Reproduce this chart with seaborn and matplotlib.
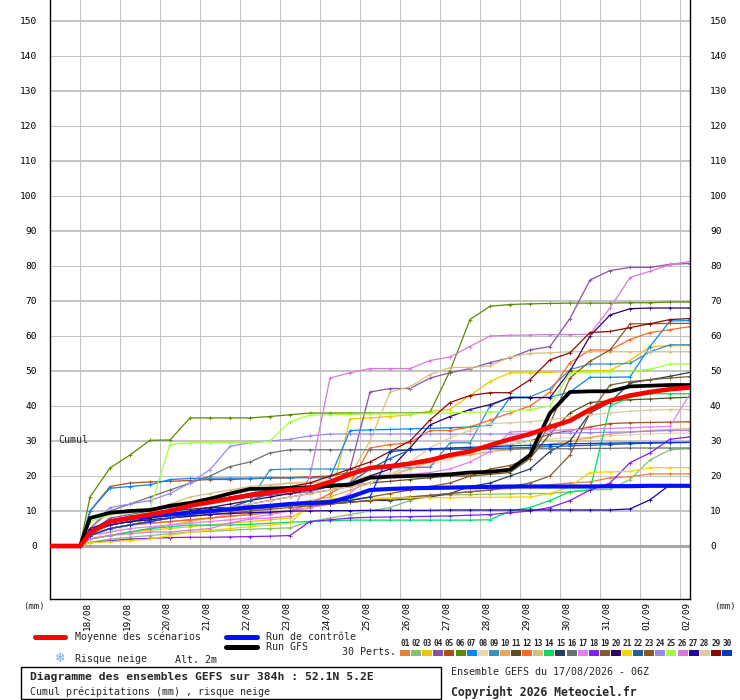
import numpy as np
import pandas as pd
import seaborn as sns
import matplotlib.pyplot as plt
from matplotlib.lines import Line2D
from matplotlib.patches import Rectangle
import matplotlib.transforms as mtransforms

# forecast hours: start, first 00Z, then one value every 12h up to 384h
hours = [0, 18] + list(range(24, 385, 12))

# 30 perturbations, cumulated precipitation (mm)
m01 = [0, 0, 3, 5, 6, 6.5, 7, 7.5, 8, 8.5, 9, 9.5, 10, 11, 12, 12.5, 13, 13.5, 14, 14.5, 15, 15.5, 16, 16.5, 17, 17.5, 18, 18.3, 19.5, 19.8, 20.6, 20.6, 20.6]
m02 = [0, 0, 1, 2, 2.5, 3, 3.5, 4, 4.2, 4.5, 4.8, 5, 5.2, 7, 8, 9, 10, 11, 13, 14.5, 14.6, 14.7, 14.8, 14.9, 15, 15, 15.5, 16, 16.2, 19, 24.6, 27.5, 27.8]
m03 = [0, 0, 2, 3, 4, 4.5, 5, 5.5, 6, 6.5, 7, 7.5, 8, 11, 13, 36.3, 36.6, 37, 37.5, 38.5, 39, 43, 47, 49.5, 49.5, 49.6, 50, 50, 50.2, 53, 57, 57.2, 57.3]
m04 = [0, 0, 4, 8, 9, 10, 11, 12, 13, 13.5, 14, 14.5, 15, 15.5, 17, 22, 44, 45, 45, 48, 49.5, 50.7, 52.4, 53.8, 56, 57, 65, 76, 78.7, 79.6, 79.6, 80.5, 80.7]
m05 = [0, 0, 10, 17, 18, 18.3, 18.5, 18.7, 19, 19, 19.2, 19.4, 19.5, 19.8, 20, 21, 22, 23, 24, 25, 26, 27, 28, 29, 30, 32, 33, 34, 35, 35.2, 35.3, 35.4, 35.5]
m06 = [0, 0, 14, 22.3, 26, 30.2, 30.3, 36.6, 36.6, 36.6, 36.6, 37, 37.5, 38, 38, 38, 38, 38, 38, 38.2, 50, 64.7, 68.5, 69, 69.2, 69.3, 69.4, 69.4, 69.4, 69.5, 69.5, 69.7, 69.7]
m07 = [0, 0, 10, 16.5, 17, 17.5, 19, 19.3, 19.4, 19.4, 19.4, 19.5, 19.5, 19.5, 19.5, 33, 33.2, 33.3, 33.5, 33.6, 33.8, 34, 34.5, 42.4, 42.4, 42.5, 44, 48.2, 48.2, 48.3, 57, 64.3, 64.4]
m08 = [0, 0, 2, 4, 6, 8, 10, 12, 14, 15, 16, 17, 18, 18.5, 19, 19.5, 20, 21, 22, 23, 25, 27, 28, 29, 30, 30.5, 31, 31, 31.5, 31.8, 32, 32.2, 32.3]
m09 = [0, 0, 3, 5, 6, 7, 8, 9, 10, 11, 13, 21.8, 22, 22, 22, 22, 22.2, 22.3, 22.4, 22.5, 29.5, 29.5, 40, 42.6, 42.6, 45, 50.4, 52, 52, 52.2, 55.5, 57.5, 57.5]
m10 = [0, 0, 2, 3, 4, 5, 6, 7, 8, 9, 10, 11, 12, 13, 14, 16, 18, 20, 22, 24, 25.5, 26, 27, 27.5, 28, 29, 30, 31, 32, 32.5, 33, 33.3, 33.5]
m11 = [0, 0, 3, 5, 6, 7, 8, 9, 10, 11, 12, 13, 14, 15, 16, 17, 18, 18.5, 19, 19.5, 20, 20, 20.5, 21, 25, 32, 38, 41, 41.5, 41.8, 42, 42.3, 42.5]
m12 = [0, 0, 3, 5, 6, 6.5, 7, 7.5, 8, 8.5, 9, 9.5, 10, 12, 15, 18, 28, 29, 29.5, 33, 33, 34, 36, 38, 40, 44, 52.4, 56, 56, 59, 61, 61.8, 62.7]
m13 = [0, 0, 3, 6, 8, 10, 12, 14, 15, 16, 17, 17.5, 18, 18, 18.5, 20, 30, 44, 45.5, 49, 51, 51, 51.5, 54, 55, 55.2, 55.5, 55.5, 55.5, 55.5, 55.5, 55.5, 55.5]
m14 = [0, 0, 2, 3, 4, 5, 5.5, 6, 6, 6, 6.2, 6.5, 6.8, 7, 7.2, 7.4, 7.4, 7.4, 7.4, 7.4, 7.4, 7.4, 7.5, 10, 11, 13, 15.5, 16, 40, 42.5, 43.5, 43.5, 43.5]
m15 = [0, 0, 4, 7, 8, 9, 10, 10.5, 11, 11, 11.5, 11.5, 12, 12, 12, 12.5, 13, 13, 13.5, 14, 15, 17, 18, 20, 22, 27, 30, 38, 41, 46.6, 47.5, 48.5, 49.6]
m16 = [0, 0, 5, 10, 12, 14, 16, 18, 20, 22.7, 24, 26.6, 27.5, 27.5, 27.5, 27.5, 27.5, 27.5, 27.5, 27.5, 27.6, 27.6, 27.7, 27.7, 27.8, 27.8, 27.8, 27.9, 27.9, 28, 28, 28, 28]
m17 = [0, 0, 3, 4, 5, 5.5, 6, 6.5, 7, 7.5, 8, 9, 10, 11, 12, 15, 20, 20.3, 20.5, 21, 22, 24, 27, 32.6, 32.8, 33, 33.2, 33.4, 33.6, 33.8, 34, 34.2, 43.5]
m18 = [0, 0, 1, 1.5, 2, 2.2, 2.4, 2.5, 2.5, 2.6, 2.7, 2.8, 3, 7, 7.5, 8, 8.2, 8.3, 8.4, 8.5, 8.6, 8.8, 9, 9.5, 10, 11, 13, 16, 18, 23.8, 26.6, 30.5, 31.2]
m19 = [0, 0, 3, 5, 6, 7, 8, 9, 9.5, 10, 10.5, 11, 11.5, 12, 12, 12.5, 13, 13.5, 14, 14.5, 15, 15.5, 16, 17, 18, 20, 26, 38, 46, 47, 47.5, 48, 48.4]
m20 = [0, 0, 4, 6, 7, 8, 9, 10, 11, 12, 13, 14, 15, 16, 17, 18, 20, 22, 28, 34.6, 37, 39, 40.4, 42.4, 42.4, 42.4, 50, 60, 66, 67.8, 68, 68, 68]
m21 = [0, 0, 1, 1.2, 1.5, 2, 3, 4, 4.5, 5, 5.5, 6, 6.5, 12, 13.5, 13.6, 13.7, 13.7, 13.8, 13.8, 13.8, 13.9, 13.9, 14, 14, 15, 17, 21, 21.2, 21.3, 22.4, 22.4, 22.4]
m22 = [0, 0, 3, 5, 6, 7, 8, 9, 10, 11, 13, 15, 16, 17, 17.5, 18, 22, 25, 27.5, 27.6, 27.7, 27.8, 27.9, 28, 28.2, 28.4, 28.6, 28.8, 29, 29.2, 29.4, 29.5, 29.6]
m23 = [0, 0, 4, 6, 7, 7.5, 8, 8.5, 9, 9.5, 10, 10.5, 11, 11.5, 12, 13, 14, 15, 16, 17, 18, 20, 22, 23, 25, 35, 48, 52.8, 56, 63.5, 63.5, 63.6, 63.6]
m24 = [0, 0, 5, 11, 12, 13, 15, 18, 21.8, 28.5, 29.5, 30, 30.5, 31.5, 32, 32, 32, 32, 32, 32, 32, 32, 32, 32, 32, 32.2, 32.3, 32.4, 32.5, 32.6, 32.8, 33, 33]
m25 = [0, 0, 7, 9, 9.5, 10.5, 29, 29.5, 29.5, 29.5, 29.5, 30, 35.5, 37.4, 37.5, 37.6, 37.7, 37.8, 37.8, 38, 38, 38.2, 38.3, 38.5, 39, 40, 49.5, 49.7, 49.8, 49.9, 50.5, 52, 52]
m26 = [0, 0, 2, 3, 3.5, 4, 4, 4.5, 5, 6.6, 7.7, 8, 8.5, 20, 48, 49.5, 50.7, 50.7, 50.7, 53, 54, 57, 60, 60.2, 60.3, 60.4, 60.4, 60.5, 68, 76.7, 78.5, 80.4, 81.3]
m27 = [0, 0, 4, 6, 7, 7.5, 8, 8.5, 9, 9.3, 9.5, 9.7, 10, 10, 10.1, 10.1, 10.2, 10.2, 10.2, 10.2, 10.3, 10.3, 10.3, 10.3, 10.3, 10.3, 10.3, 10.3, 10.3, 10.6, 13.2, 17.5, 17.5]
m28 = [0, 0, 3, 5, 6, 7, 8, 9, 10, 11, 12, 13, 14, 15, 16, 17, 18, 20, 24, 28, 31, 33, 35, 35.2, 35.5, 36, 37, 37.5, 38, 38.5, 38.8, 39, 39]
m29 = [0, 0, 5, 7, 8, 9, 10, 12, 13, 14, 15, 16, 17, 18, 20, 22, 24, 27, 30, 36, 41, 43, 43.8, 43.8, 47.5, 53.2, 55.2, 61, 61.3, 62.4, 63.5, 64.7, 65]
m30 = [0, 0, 3, 5, 6, 7, 8, 9, 10, 10.5, 11, 11.5, 12, 12.5, 13, 13, 14, 27, 27.5, 27.8, 28, 28.2, 28.4, 28.6, 28.8, 29, 29.2, 29.3, 29.4, 29.5, 29.5, 29.6, 29.6]

mean_run = [0, 0, 3.7, 7, 8, 9, 10, 11.5, 12.5, 13.5, 14.5, 15.3, 16, 16.5, 18.3, 20.5, 22.3, 22.8, 23.5, 24.5, 26, 27, 28.8, 30.5, 32, 34, 35.8, 39, 41.5, 43, 44, 44.8, 45.3]
control_run = [0, 0, 4, 7, 8, 8.5, 9, 9.5, 10, 10.5, 11, 11.5, 12, 12.3, 12.5, 14, 16, 16.3, 16.5, 16.6, 16.7, 16.8, 16.9, 17, 17, 17, 17, 17, 17.1, 17.1, 17.2, 17.2, 17.2]
gfs_run = [0, 0, 8, 9.5, 10, 10.3, 11.5, 12.3, 13.5, 15, 16.3, 16.4, 16.6, 16.8, 17.2, 17.5, 19.5, 19.8, 20, 20.2, 20.5, 21, 21.2, 21.8, 26, 38, 44, 44.2, 44.2, 45.6, 45.8, 46, 46]

perts = [m01, m02, m03, m04, m05, m06, m07, m08, m09, m10,
         m11, m12, m13, m14, m15, m16, m17, m18, m19, m20,
         m21, m22, m23, m24, m25, m26, m27, m28, m29, m30]
pert_colors = ["#e8803a", "#88c070", "#f0c400", "#8850a8", "#b05010", "#5a8a00", "#0088ff", "#e8d8b0", "#3890c0", "#e8a858",
               "#604c20", "#ff6820", "#d4c07c", "#00dd60", "#204058", "#687078", "#e080f8", "#8020f0", "#805c30", "#300068",
               "#f0d800", "#2060a0", "#8a5820", "#9888f0", "#a0ff40", "#d878d8", "#2000a0", "#e0c8a0", "#880808", "#0038c0"]

day_labels = ["18/08", "19/08", "20/08", "21/08", "22/08", "23/08", "24/08", "25/08",
              "26/08", "27/08", "28/08", "29/08", "30/08", "31/08", "01/09", "02/09"]
y_ticks = list(range(0, 151, 10))

W, H = 740, 700
MONO = "DejaVu Sans Mono"

sns.set_theme(style="white")
plt.rcParams['font.family'] = [MONO, 'DejaVu Sans']

fig = plt.figure(figsize=(W / 100, H / 100), dpi=100)
fig.patch.set_facecolor("white")
ax = fig.add_axes([50 / W, 101 / H, 640 / W, 599 / H])
ax.set_facecolor("white")


def px(x, y):
    return x / W, 1 - y / H


# long table for the members
rows = []
for k, vals in enumerate(perts):
    for h, v in zip(hours, vals):
        rows.append((f"{k + 1:02d}", h, v))
df = pd.DataFrame(rows, columns=["member", "hour", "mm"])
palette = {f"{k + 1:02d}": c for k, c in enumerate(pert_colors)}

# grid
for v in y_ticks[1:]:
    lw = 1.45 if (v // 10) % 2 == 1 else 0.75
    ax.axhline(v, color="#c4c4c4", lw=lw, zorder=0.5)
ax.axhline(0, color="#a8a8a8", lw=2.2, zorder=0.6)
day_hours = [18 + 24 * k for k in range(len(day_labels))]
for h in day_hours:
    ax.axvline(h, color="#c4c4c4", lw=0.75, zorder=0.5)

sns.lineplot(data=df, x="hour", y="mm", hue="member", palette=palette, legend=False,
             estimator=None, linewidth=0.9, marker="+", markersize=3.2, ax=ax, zorder=2)
for line in ax.lines:
    if line.get_marker() == "+":
        line.set_markeredgecolor(line.get_color())
        line.set_markeredgewidth(0.6)

sns.lineplot(x=hours, y=control_run, color="#0010ff", linewidth=3.0, ax=ax, zorder=3)
sns.lineplot(x=hours, y=gfs_run, color="black", linewidth=2.7, ax=ax, zorder=4)
sns.lineplot(x=hours, y=mean_run, color="#ff0000", linewidth=3.3, ax=ax, zorder=5)

ax.set_xlim(0, 384)
ax.set_ylim(-15.14, 156)
ax.set_xticks([])
ax.set_yticks([])
ax.set_xlabel("")
ax.set_ylabel("")
for side in ["left", "right", "bottom"]:
    ax.spines[side].set_color("black")
    ax.spines[side].set_linewidth(1.0)
ax.spines["top"].set_visible(False)

# tick labels
ytrans = ax.get_yaxis_transform()
for v in y_ticks:
    ax.text(0, v, str(v), transform=ytrans + mtransforms.ScaledTranslation(-13 / 100, 0, fig.dpi_scale_trans),
            ha="right", va="center", fontsize=6.8, color="black")
    ax.text(1, v, str(v), transform=ytrans + mtransforms.ScaledTranslation(20 / 100, 0, fig.dpi_scale_trans),
            ha="left", va="center", fontsize=6.8, color="black")
xtrans = ax.get_xaxis_transform()
for h, lab in zip(day_hours, day_labels):
    ax.text(h, 0, lab, transform=xtrans + mtransforms.ScaledTranslation(6.5 / 100, -3 / 100, fig.dpi_scale_trans),
            ha="center", va="top", rotation=90, fontsize=6.7, color="black")

fig.text(*px(34, 607), "(mm)", ha="center", va="center", fontsize=6.5)
fig.text(*px(725, 607), "(mm)", ha="center", va="center", fontsize=6.5)
fig.text(*px(58, 440), "Cumul", ha="left", va="center", fontsize=7.2)

# legend
fig.add_artist(Line2D([35 / W, 65 / W], [1 - 637 / H] * 2, color="#ff0000", lw=3.6))
fig.text(*px(75, 637), "Moyenne des scénarios", ha="left", va="center", fontsize=7.2)
fig.add_artist(Line2D([226 / W, 257 / W], [1 - 637 / H] * 2, color="#0010ff", lw=3.6))
fig.text(*px(266, 637), "Run de contrôle", ha="left", va="center", fontsize=7.2)
fig.add_artist(Line2D([226 / W, 257 / W], [1 - 647 / H] * 2, color="black", lw=3.6))
fig.text(*px(266, 647), "Run GFS", ha="left", va="center", fontsize=7.2)
fig.text(*px(396, 652), "30 Perts.", ha="right", va="center", fontsize=7.2)
for k, c in enumerate(pert_colors):
    x0 = 400 + 11.1 * k
    fig.add_artist(Rectangle(px(x0, 656), 10 / W, 6 / H, facecolor=c, edgecolor="none"))
    fig.text(*px(x0 + 5, 643), f"{k + 1:02d}", ha="center", va="center", fontsize=5.6, fontweight="bold")

fig.text(*px(60, 659), "\u2744", ha="center", va="center", fontsize=9, color="#6aaaf0", family="DejaVu Sans")
fig.text(*px(75, 659), "Risque neige", ha="left", va="center", fontsize=7.2)
fig.text(*px(175, 660), "Alt. 2m", ha="left", va="center", fontsize=7.2)

fig.add_artist(Rectangle(px(21, 699), 420 / W, 32 / H, facecolor="none", edgecolor="black", lw=1.0))
fig.text(*px(30, 677), "Diagramme des ensembles GEFS sur 384h : 52.1N 5.2E", ha="left", va="center",
         fontsize=8.2, fontweight="bold")
fig.text(*px(30, 692), "Cumul précipitations (mm) , risque neige", ha="left", va="center", fontsize=7.2)
fig.text(*px(451, 672), "Ensemble GEFS du 17/08/2026 - 06Z", ha="left", va="center", fontsize=7.2)
fig.text(*px(451, 692), "Copyright 2026 Meteociel.fr", ha="left", va="center", fontsize=8.3, fontweight="bold")

fig.savefig("out.png", dpi=100, facecolor="white")
plt.close(fig)
